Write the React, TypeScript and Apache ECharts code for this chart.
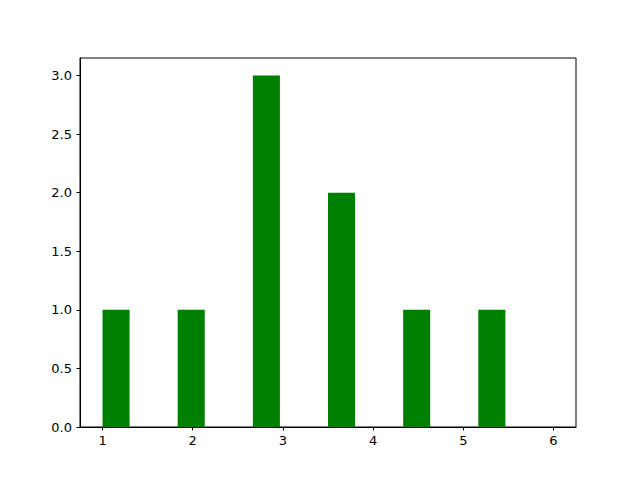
import React, { useEffect, useRef } from "react";
import * as echarts from "echarts";

const binStarts = [1, 1.8333, 2.6667, 3.5, 4.3333, 5.1667];
const counts = [1, 1, 3, 2, 1, 1];
const barWidthUnits = 0.3;

export default function App() {
  const ref = useRef<HTMLDivElement>(null);
  useEffect(() => {
    document.body.style.margin = "0";
    const chart = echarts.init(ref.current!, null, { renderer: "svg" });
    const font = "DejaVu Sans";
    chart.setOption({
      animation: false,
      backgroundColor: "#ffffff",
      grid: {
        left: 80,
        right: 64,
        top: 58,
        bottom: 53,
        show: true,
        borderColor: "#000000",
        borderWidth: 1,
        backgroundColor: "transparent",
      },
      xAxis: {
        type: "value",
        min: 0.75,
        max: 6.25,
        minInterval: 1,
        maxInterval: 1,
        splitLine: { show: false },
        axisLine: { show: true, onZero: false, lineStyle: { color: "#000", width: 1 } },
        axisTick: { show: true, length: 3.5, lineStyle: { color: "#000", width: 1 } },
        axisLabel: {
          showMinLabel: false,
          showMaxLabel: false,
          color: "#000",
          fontFamily: font,
          fontSize: 13,
          margin: 7,
        },
      },
      yAxis: {
        type: "value",
        min: 0,
        max: 3.15,
        interval: 0.5,
        splitLine: { show: false },
        axisLine: { show: true, lineStyle: { color: "#000", width: 1 } },
        axisTick: { show: true, length: 3.5, lineStyle: { color: "#000", width: 1 } },
        axisLabel: {
          showMaxLabel: false,
          color: "#000",
          fontFamily: font,
          fontSize: 13,
          margin: 8,
          formatter: (v: number) => v.toFixed(1),
        },
      },
      series: [
        {
          type: "custom",
          data: binStarts.map((s, i) => [s, counts[i]]),
          renderItem: (params: any, api: any) => {
            const x0 = api.value(0);
            const h = api.value(1);
            const p1 = api.coord([x0, h]);
            const p2 = api.coord([x0 + barWidthUnits, 0]);
            return {
              type: "rect",
              shape: { x: p1[0], y: p1[1], width: p2[0] - p1[0], height: p2[1] - p1[1] },
              style: { fill: "#008000" },
            };
          },
        },
      ],
    });
    return () => chart.dispose();
  }, []);
  return <div ref={ref} style={{ width: 640, height: 480 }} />;
}
